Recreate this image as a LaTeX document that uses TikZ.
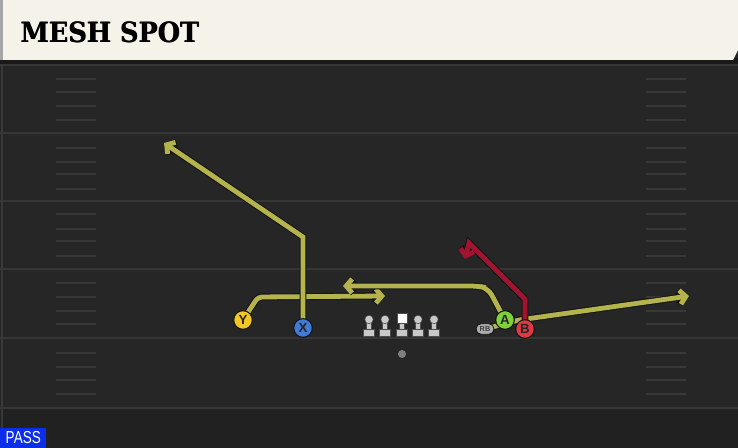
\documentclass[tikz,border=0pt]{standalone}
\usepackage{fontspec}
\usetikzlibrary{arrows.meta,shapes.misc}
\newfontfamily\titlefont{DejaVu Serif}
\newfontfamily\labfont{Liberation Sans}
\definecolor{field}{HTML}{262626}
\definecolor{fieldlow}{HTML}{212121}
\definecolor{yardline}{HTML}{363636}
\definecolor{hashc}{HTML}{383838}
\definecolor{cream}{HTML}{F5F2EA}
\definecolor{routey}{HTML}{B5B44C}
\definecolor{router}{HTML}{A3122F}
\definecolor{outl}{HTML}{151515}
\definecolor{ycol}{HTML}{F2C720}
\definecolor{xcol}{HTML}{3F7BDA}
\definecolor{acol}{HTML}{80D23A}
\definecolor{bcol}{HTML}{E23744}
\definecolor{linec}{HTML}{C9C9C9}
\definecolor{passblue}{HTML}{0B2FE6}
\pgfdeclarelayer{back}
\pgfdeclarelayer{mid}
\pgfsetlayers{back,mid,main}
\tikzset{
  yard/.style={draw=yardline, line width=1.5pt},
  hashmark/.style={draw=hashc, line width=1.2pt},
  routebase/.style={line width=3.6pt, line join=miter, rounded corners=3pt,
     -{Straight Barb[length=4.5pt,width=10.5pt]}},
  routeyel/.style={routebase, draw=routey, preaction={draw=outl, line width=5.2pt}},
  routered/.style={routebase, draw=router, preaction={draw=outl, line width=5.2pt}},
  player/.style={circle, draw=outl, line width=0.8pt, minimum size=14pt, inner sep=0pt,
     font=\labfont\bfseries\fontsize{10}{10}\selectfont, text=black!85},
  lineman/.style={fill=linec, draw=black!70, line width=0.4pt},
}
\begin{document}
\begin{tikzpicture}[x=0.75pt,y=-0.75pt]
\useasboundingbox (0,0) rectangle (738,448);
\begin{pgfonlayer}{back}
\fill[field] (0,0) rectangle (738,448);
\fill[fieldlow] (0,408) rectangle (738,448);
\foreach \y in {65,133,201,269,338,408} \draw[yard] (0,\y) -- (738,\y);
\foreach \y in {79,92,106,120,148,162,174,189,214,229,241,256,283,297,311,324,353,367,380,394} {
  \draw[hashmark] (56,\y) -- (96,\y);
  \draw[hashmark] (646,\y) -- (686,\y);
}
\draw[draw=hashc, line width=1.5pt] (2,60) -- (2,448);
% title bar
\fill[black!90] (0,58) rectangle (738,64);
\fill[cream] (3,0) -- (738,0) -- (738,50) -- (733,60) -- (3,60) -- cycle;
\fill[black!35] (0,0) rectangle (3,60);
\end{pgfonlayer}
\node[anchor=west, inner sep=0pt] (title) at (20,32.5)
  {\resizebox{134pt}{15.5pt}{\titlefont\bfseries MESH SPOT}};
\node[anchor=west, inner sep=0pt] at (20.6,32.5)
  {\resizebox{134pt}{15.5pt}{\titlefont\bfseries MESH SPOT}};
\node[anchor=south west, fill=passblue, text=white, inner sep=0pt,
  minimum width=34.5pt, minimum height=15pt] (pass) at (0,448)
  {\labfont\fontsize{13}{13}\selectfont\scalebox{0.78}[1]{PASS}};
% players
\node[player, fill=ycol] (Y) at (243,320) {Y};
\node[player, fill=xcol] (X) at (303,328) {X};
\node[player, fill=acol] (A) at (505,320) {A};
\node[player, fill=bcol] (B) at (525,329) {B};
\node[rounded rectangle, fill=black!32, draw=outl, line width=0.6pt, minimum width=13.5pt,
  minimum height=8pt, inner sep=0pt, text=black!75,
  font=\labfont\bfseries\fontsize{5.5}{5.5}\selectfont] (RB) at (485,329) {RB};
\node[circle, fill=black!50, inner sep=0pt, minimum size=6pt] (ball) at (402,354) {};
% offensive line
\foreach \x in {369,385,418,434} {
  \fill[lineman] (\x-5.5,329) rectangle (\x+5.5,336);
  \fill[lineman] (\x-2.5,321) rectangle (\x+2.5,329);
  \fill[lineman] (\x,319.5) circle[radius=4.2];
}
\fill[lineman] (396.5,329) rectangle (407.5,336);
\fill[lineman] (399.5,322) rectangle (404.5,329);
\fill[white, draw=black!70, line width=0.4pt] (397,313) rectangle (407,323);
% route points
\coordinate (y1) at (258,297);
\coordinate (yend) at (385,296);
\coordinate (x1) at (303,237);
\coordinate (xend) at (164,143);
\coordinate (a1) at (488,288);
\coordinate (a2) at (478,286);
\coordinate (aend) at (343,286);
\coordinate (r1) at (519,320);
\coordinate (rend) at (689,296);
\coordinate (b1) at (525,299);
\coordinate (b2) at (469,243);
\coordinate (bend) at (465,259);
\begin{pgfonlayer}{mid}
\draw[routeyel] (Y.center) -- (y1) -- (yend);
\draw[routeyel, rounded corners=0pt] (X.center) -- (x1) -- (xend);
\draw[routeyel, rounded corners=6pt] (A.center) -- (a1) -- (a2) -- (aend);
\draw[routeyel] (RB.center) -- (r1) -- (rend);
\draw[routered, rounded corners=0pt] (B.center) -- (b1) -- (b2) -- (bend);
\end{pgfonlayer}
\end{tikzpicture}
\end{document}
